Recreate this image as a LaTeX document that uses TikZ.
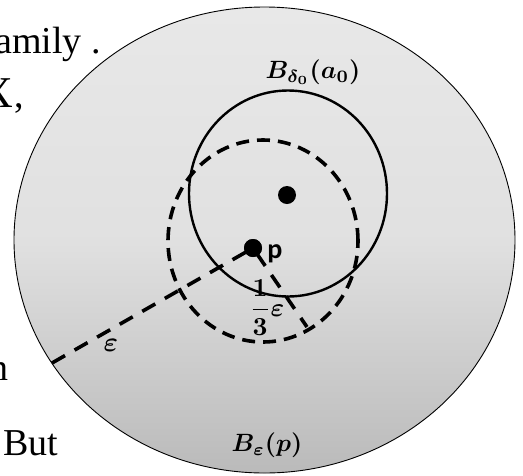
\documentclass[tikz,border=0pt]{standalone}
\usepackage{amsmath,bm}
\usepackage{fontspec}
\setmainfont{Liberation Serif}
\newfontfamily\labelsans{Carlito}
\usetikzlibrary{shapes.geometric}
\begin{document}
\begin{tikzpicture}[x=1pt,y=-1pt,
  bigball/.style={ellipse, draw=black, line width=0.9pt, inner sep=0pt,
    top color=black!9, bottom color=black!27, middle color=black!12},
  smallball/.style={ellipse, draw=black, line width=2.4pt, inner sep=0pt},
  dashball/.style={ellipse, draw=black, line width=3.6pt, inner sep=0pt,
    dash pattern=on 13pt off 8pt},
  radline/.style={line width=3.6pt, dash pattern=on 15pt off 11pt},
  dotnode/.style={circle, fill=black, inner sep=0pt, minimum size=18pt},
  mathlabel/.style={inner sep=0pt, font=\boldmath, transform shape, scale=2.5},
  bgtext/.style={inner sep=0pt, font=\fontsize{38}{44}\selectfont}]
\useasboundingbox (0,0) rectangle (523,475);
\clip (0,0) rectangle (523,475);
\fill[white] (0,0) rectangle (523,475);
% background text fragments
\node[bgtext, anchor=base east] (t1) at (101,53) {family .};
\node[bgtext, anchor=base east] (t2) at (13,107) {\fontsize{44}{50}\selectfont X};
\node[bgtext, anchor=base west] (t2c) at (14,107) {,};
\node[bgtext, anchor=base east] (t3) at (9,380) {n};
\node[bgtext, anchor=base west] (t4) at (3,455) {But};
% balls
\node[bigball, minimum width=501pt, minimum height=466pt] (ball) at (264.5,240) {};
\node[smallball, minimum width=198pt, minimum height=206pt] (nbhd) at (288,193.5) {};
\node[dashball, minimum width=190pt, minimum height=202pt] (dball) at (263,241) {};
% radii
\node[dotnode] (a0) at (287,195) {};
\node[dotnode] (p) at (253,248) {};
\coordinate (e1) at (52,363);
\coordinate (e2) at (307,327);
\draw[radline] (e1) -- (p.center);
\draw[radline, dash phase=4pt] (e2) -- (p.center);
\node[dotnode] (p2) at (253,248) {};
% labels
\node[mathlabel] (lbd) at (313,72) {$B_{\delta_0}(a_0)$};
\node[mathlabel] (lbe) at (267,445) {$B_{\varepsilon}(p)$};
\node[inner sep=0pt, anchor=base, font=\labelsans\bfseries\fontsize{28}{30}\selectfont] (plab) at (275,258) {p};
\node[mathlabel, scale=1.04] (third) at (267,308) {$\dfrac{1}{3}\varepsilon$};
\node[mathlabel, scale=1.1] (eps) at (111,345) {$\varepsilon$};
\end{tikzpicture}
\end{document}
